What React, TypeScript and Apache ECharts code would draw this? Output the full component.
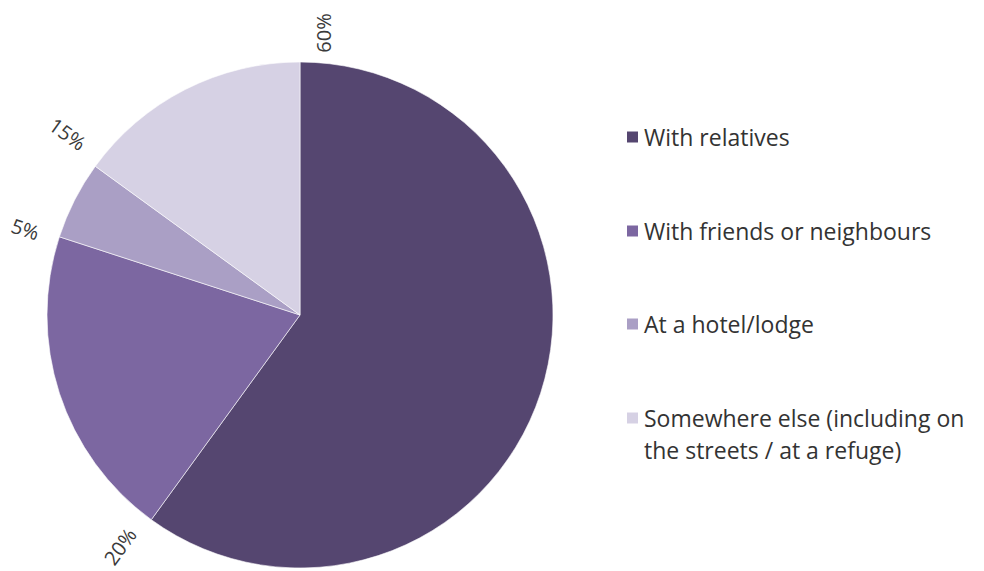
import React, { useEffect, useRef } from "react";
import * as echarts from "echarts";

const categories = [
  "With relatives",
  "With friends or neighbours",
  "At a hotel/lodge",
  "Somewhere else (including on\nthe streets / at a refuge)",
];
const values = [60, 20, 5, 15];
const colors = ["#554670", "#7c67a1", "#aa9fc5", "#d6d1e4"];
const legendCenters = [137, 231, 324, 418];
// small on-screen label nudges (px) to mimic the original label placement
const labelNudges = [
  [23, 9],
  [-9, -4],
  [2, 4],
  [3, -10],
];

export default function App() {
  const ref = useRef<HTMLDivElement>(null);
  useEffect(() => {
    if (!ref.current) return;
    document.body.style.margin = "0";
    const chart = echarts.init(ref.current, undefined, { renderer: "svg" });
    const font = "'Open Sans', 'Noto Sans', sans-serif";
    const total = values.reduce((a, b) => a + b, 0);

    // rotation (deg, CCW) that the radial label at each slice start receives
    let cum = 0;
    const rotations = values.map((v, i) => {
      const alpha = 90 - (360 * cum) / total;
      cum += v;
      if (i === 0) return 90;
      const a = (alpha * Math.PI) / 180;
      return Math.cos(a) < 0 ? alpha + 180 : alpha;
    });

    // label series: zero-width slices at each slice's starting boundary
    const labelData: any[] = [];
    values.forEach((v, i) => {
      labelData.push({
        value: 0,
        name: `${v}%`,
        label: i === 0 ? { show: true, rotate: 90 } : { show: true },
      });
      labelData.push({ value: v, name: "", label: { show: false } });
    });

    const legends = categories.map((name, i) => {
      const multi = name.includes("\n");
      return {
        data: [name],
        orient: "vertical",
        left: 625,
        top: multi ? legendCenters[i] - 48 : legendCenters[i] - 16,
        padding: 0,
        icon: "rect",
        itemWidth: 13,
        itemHeight: 13,
        itemGap: 0,
        selectedMode: false,
        formatter: (n: string) => (n.includes("\n") ? " \n" + n : n),
        textStyle: {
          fontFamily: font,
          fontSize: 23,
          color: "#333333",
          lineHeight: 32,
        },
      };
    });

    chart.setOption({
      animation: false,
      backgroundColor: "#ffffff",
      legend: legends,
      series: [
        {
          type: "pie",
          center: [300, 315],
          radius: 253,
          startAngle: 90,
          clockwise: true,
          avoidLabelOverlap: false,
          label: { show: false },
          labelLine: { show: false },
          itemStyle: { borderColor: "#ffffff", borderWidth: 0.6 },
          data: categories.map((name, i) => ({
            name,
            value: values[i],
            itemStyle: { color: colors[i] },
          })),
        },
        {
          type: "pie",
          center: [300, 315],
          radius: [278, 298],
          startAngle: 90,
          clockwise: true,
          silent: true,
          avoidLabelOverlap: false,
          minShowLabelAngle: 0,
          itemStyle: { color: "transparent", borderWidth: 0 },
          labelLine: { show: false },
          label: {
            position: "inside",
            rotate: "radial",
            formatter: "{b}",
            fontFamily: font,
            fontSize: 20,
            color: "#3a3a3a",
          },
          labelLayout: (p: any) => {
            const k = Math.floor(p.dataIndex / 2);
            const n = labelNudges[k] || [0, 0];
            const t = ((rotations[k] || 0) * Math.PI) / 180;
            const sx = n[0];
            const sy = n[1];
            return {
              dx: sx * Math.cos(t) - sy * Math.sin(t),
              dy: sx * Math.sin(t) + sy * Math.cos(t),
            };
          },
          data: labelData,
        },
      ],
    });
    return () => chart.dispose();
  }, []);
  return <div ref={ref} style={{ width: 984, height: 571 }} />;
}
